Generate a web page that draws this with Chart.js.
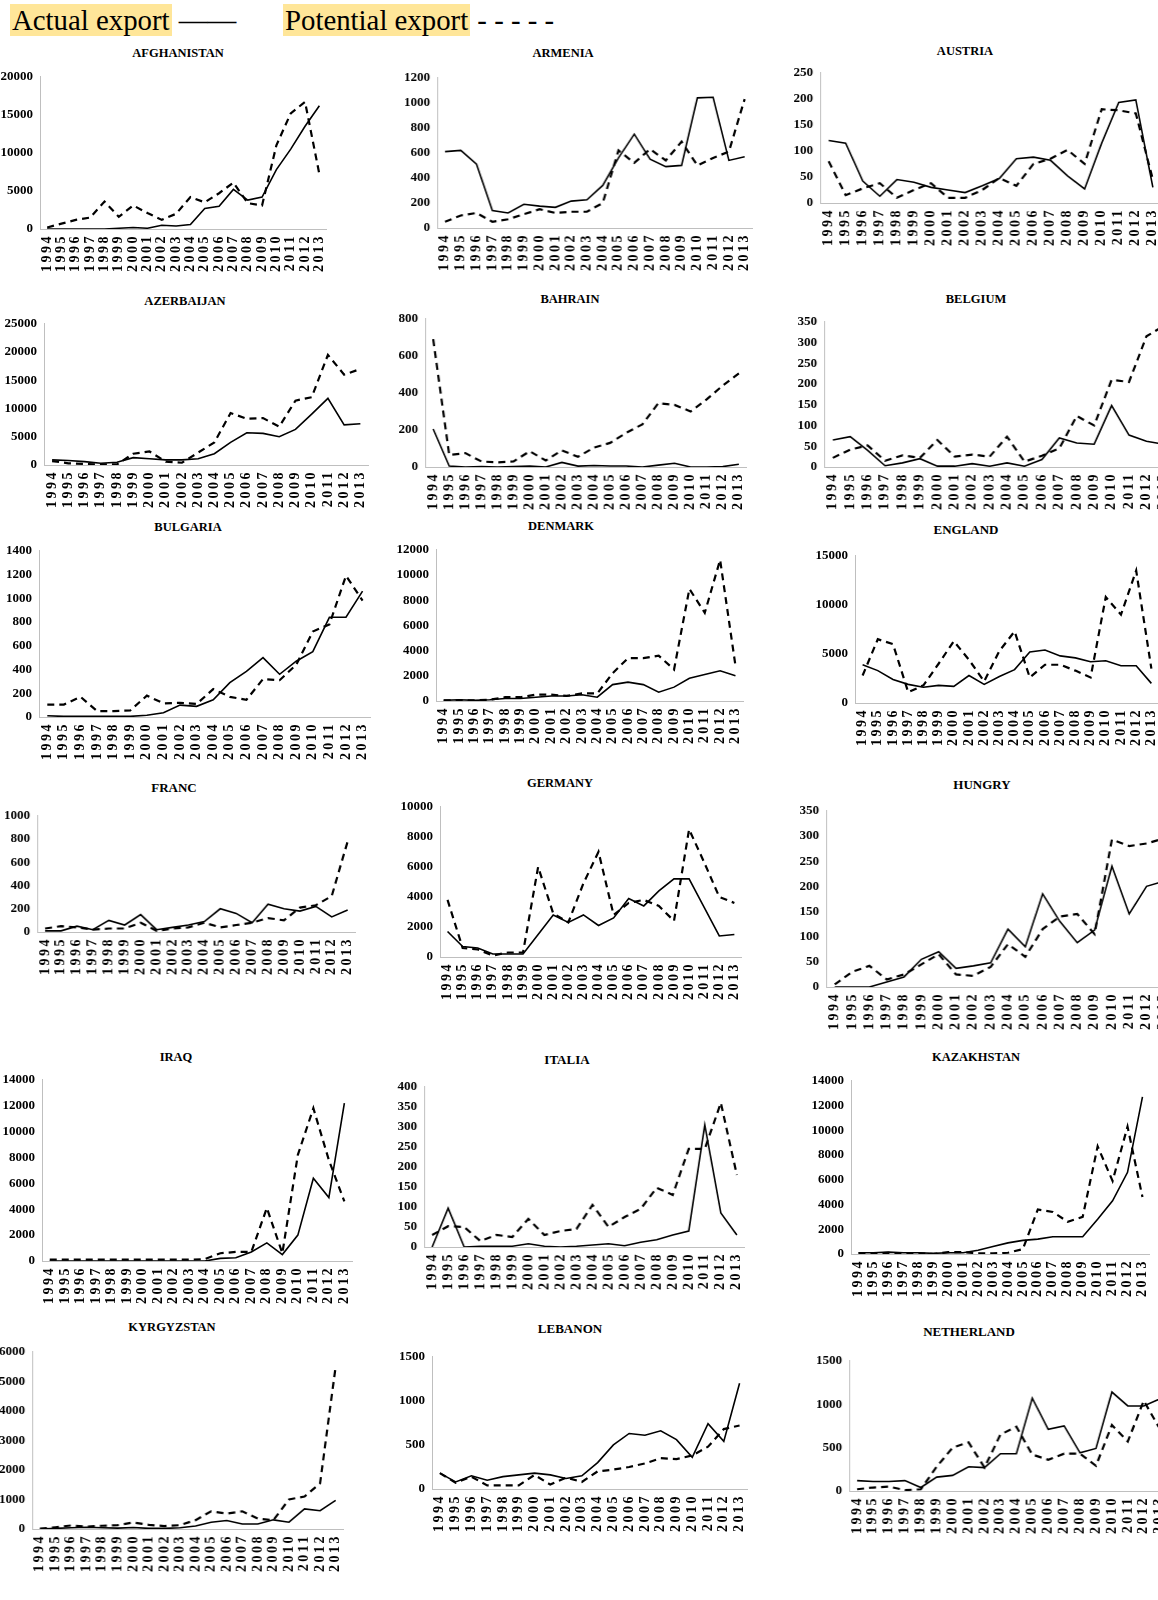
<!DOCTYPE html>
<html>
<head>
<meta charset="utf-8">
<script src="https://cdn.jsdelivr.net/npm/chart.js@4.4.1/dist/chart.umd.min.js"></script>
<style>
  html, body { margin: 0; padding: 0; background: #fff; }
  body { width: 1158px; height: 1600px; position: relative; overflow: hidden; font-family: "Liberation Serif", "Times New Roman", serif; }
  .legend { position: absolute; top: 4px; font-size: 28.8px; line-height: 33px; white-space: nowrap; color: #000; }
  .legend .hl { background: #ffe699; padding: 0 2px; }
  .panel { position: absolute; }
  .ptitle { position: absolute; transform: translate(-50%, -50%); font-weight: bold; white-space: nowrap; color: #000; line-height: 1; }
</style>
</head>
<body>
<div class="legend" style="left:10px"><span class="hl">Actual export</span> ——</div>
<div class="legend" style="left:283px"><span class="hl">Potential export</span> - - - - -</div>

<script>
const years = ["1994", "1995", "1996", "1997", "1998", "1999", "2000", "2001", "2002", "2003",
  "2004", "2005", "2006", "2007", "2008", "2009", "2010", "2011", "2012", "2013"];

const afghanistanActual = [0, 0, 0, 0, 0, 100, 200, 100, 500, 400, 600, 2700, 3000, 5200, 3800, 4200, 7800, 10500, 13500, 16200];
const afghanistanPotential = [200, 700, 1200, 1500, 3600, 1600, 3100, 2100, 1200, 2000, 4200, 3500, 4700, 6100, 3400, 3100, 11000, 15200, 16700, 7200];

const armeniaActual = [610, 620, 510, 140, 120, 190, 175, 165, 215, 225, 340, 560, 750, 550, 490, 500, 1040, 1045, 540, 570];
const armeniaPotential = [50, 100, 120, 50, 70, 110, 150, 120, 130, 130, 200, 620, 520, 630, 540, 690, 500, 560, 610, 1030];

const austriaActual = [120, 115, 42, 13, 45, 40, 30, 25, 20, 33, 47, 85, 88, 82, 52, 27, 115, 193, 198, 30];
const austriaPotential = [80, 15, 28, 38, 10, 25, 38, 10, 10, 25, 48, 33, 75, 85, 102, 75, 180, 178, 172, 45];

const azerbaijanActual = [900, 800, 600, 300, 500, 1300, 1100, 900, 900, 1100, 2000, 4000, 5700, 5600, 5000, 6300, 9000, 11800, 7100, 7300];
const azerbaijanPotential = [700, 300, 200, 100, 100, 2000, 2400, 600, 400, 2200, 4000, 9200, 8200, 8300, 6800, 11400, 12000, 19500, 16000, 17000];

const bahrainActual = [205, 5, 0, 2, 0, 2, 5, 0, 25, 5, 8, 5, 5, 0, 10, 20, 0, 0, 2, 15];
const bahrainPotential = [690, 65, 75, 30, 25, 30, 85, 35, 90, 55, 105, 130, 185, 230, 345, 335, 300, 365, 440, 505];

const belgiumActual = [65, 73, 40, 3, 10, 20, 2, 2, 8, 2, 10, 2, 18, 70, 58, 55, 148, 77, 62, 55];
const belgiumPotential = [22, 42, 52, 15, 28, 22, 65, 25, 30, 25, 73, 13, 27, 45, 123, 100, 210, 205, 315, 340];

const bulgariaActual = [10, 5, 5, 5, 5, 5, 15, 35, 100, 90, 145, 290, 385, 500, 360, 470, 550, 840, 840, 1060];
const bulgariaPotential = [105, 105, 170, 50, 50, 55, 180, 115, 120, 110, 235, 170, 145, 320, 310, 440, 720, 780, 1190, 980];

const denmarkActual = [50, 100, 50, 100, 200, 200, 300, 400, 400, 500, 300, 1300, 1500, 1300, 700, 1100, 1800, 2100, 2400, 2000];
const denmarkPotential = [50, 50, 50, 100, 300, 300, 500, 500, 400, 600, 600, 2200, 3400, 3400, 3600, 2500, 8900, 7000, 11200, 2800];

const englandActual = [3900, 3300, 2400, 1900, 1600, 1800, 1700, 2800, 1900, 2700, 3400, 5200, 5400, 4800, 4600, 4200, 4300, 3800, 3800, 2000];
const englandPotential = [2800, 6500, 6000, 1100, 1800, 4000, 6300, 4400, 2200, 5300, 7300, 2600, 3900, 3900, 3300, 2600, 10800, 9000, 13500, 3500];

const francActual = [10, 10, 50, 20, 100, 60, 150, 20, 40, 60, 90, 200, 160, 80, 240, 200, 180, 220, 130, 190];
const francPotential = [30, 50, 40, 20, 30, 30, 80, 10, 30, 40, 80, 40, 60, 80, 120, 100, 210, 230, 310, 780];

const germanyActual = [1700, 700, 600, 200, 200, 200, 1500, 2800, 2300, 2800, 2100, 2600, 3900, 3400, 4400, 5200, 5200, 3300, 1400, 1500];
const germanyPotential = [3800, 600, 500, 100, 300, 300, 6000, 2900, 2300, 4900, 7000, 2800, 3600, 3800, 3400, 2400, 8500, 6300, 4000, 3600];

const hungryActual = [0, 0, 0, 10, 20, 55, 70, 37, 42, 48, 115, 80, 185, 130, 88, 113, 240, 145, 200, 210];
const hungryPotential = [5, 30, 42, 15, 25, 45, 65, 25, 22, 40, 85, 60, 115, 140, 145, 105, 293, 280, 285, 295];

const iraqActual = [0, 0, 0, 0, 0, 0, 0, 0, 0, 0, 0, 200, 250, 700, 1400, 500, 2000, 6400, 4900, 12200];
const iraqPotential = [100, 100, 100, 100, 100, 100, 100, 100, 100, 100, 150, 600, 700, 700, 4100, 600, 8200, 11800, 7800, 4600];

const italiaActual = [0, 97, 0, 2, 2, 2, 8, 2, 0, 2, 5, 8, 3, 12, 18, 30, 40, 305, 85, 30];
const italiaPotential = [30, 52, 50, 15, 30, 25, 70, 30, 40, 45, 105, 50, 75, 95, 148, 130, 245, 245, 360, 180];

const kazakhstanActual = [100, 100, 150, 100, 100, 50, 100, 100, 300, 600, 900, 1100, 1200, 1400, 1400, 1400, 2800, 4300, 6600, 12700];
const kazakhstanPotential = [50, 50, 100, 0, 50, 0, 150, 150, 50, 50, 100, 400, 3600, 3400, 2600, 3000, 8700, 5900, 10300, 4600];

const kyrgyzstanActual = [0, 20, 40, 60, 40, 30, 50, 20, 20, 40, 100, 230, 290, 170, 170, 310, 230, 680, 620, 970];
const kyrgyzstanPotential = [10, 60, 120, 80, 110, 130, 220, 140, 100, 130, 300, 600, 520, 600, 350, 300, 1000, 1100, 1550, 5500];

const lebanonActual = [180, 80, 150, 100, 140, 160, 180, 160, 120, 150, 300, 500, 630, 610, 660, 560, 360, 740, 540, 1200];
const lebanonPotential = [180, 70, 140, 40, 40, 40, 160, 50, 130, 80, 200, 220, 250, 290, 350, 340, 380, 480, 680, 720];

const netherlandActual = [120, 110, 110, 120, 40, 160, 180, 280, 270, 430, 430, 1070, 710, 750, 440, 490, 1140, 980, 980, 1060];
const netherlandPotential = [20, 40, 50, 10, 20, 280, 500, 560, 270, 650, 740, 420, 360, 430, 430, 290, 760, 570, 1040, 720];

// plot boxes in page pixels: x0 = y axis, x1 = end of x axis, y0 = top tick, y1 = zero line; tx/ty = title centre
const panels = [
  { title: "AFGHANISTAN", actual: afghanistanActual, potential: afghanistanPotential, max: 20000, step: 5000, x0: 40, x1: 327, y0: 77, y1: 229, tx: 178, ty: 53 },
  { title: "ARMENIA", actual: armeniaActual, potential: armeniaPotential, max: 1200, step: 200, x0: 437, x1: 751, y0: 78, y1: 228, tx: 563, ty: 53 },
  { title: "AUSTRIA", actual: austriaActual, potential: austriaPotential, max: 250, step: 50, x0: 820, x1: 1160, y0: 73, y1: 203, tx: 965, ty: 51 },
  { title: "AZERBAIJAN", actual: azerbaijanActual, potential: azerbaijanPotential, max: 25000, step: 5000, x0: 44, x1: 368, y0: 324, y1: 465, tx: 185, ty: 301 },
  { title: "BAHRAIN", actual: bahrainActual, potential: bahrainPotential, max: 800, step: 100, x0: 425, x1: 746, y0: 319, y1: 467, tx: 570, ty: 299 },
  { title: "BELGIUM", actual: belgiumActual, potential: belgiumPotential, max: 350, step: 50, x0: 824, x1: 1172, y0: 322, y1: 467, tx: 976, ty: 299 },
  { title: "BULGARIA", actual: bulgariaActual, potential: bulgariaPotential, max: 1400, step: 200, x0: 39, x1: 371, y0: 551, y1: 717, tx: 188, ty: 527 },
  { title: "DENMARK", actual: denmarkActual, potential: denmarkPotential, max: 12000, step: 2000, x0: 436, x1: 743, y0: 550, y1: 701, tx: 561, ty: 526 },
  { title: "ENGLAND", actual: englandActual, potential: englandPotential, max: 15000, step: 5000, x0: 855, x1: 1159, y0: 556, y1: 703, tx: 966, ty: 529, ts: 13 },
  { title: "FRANC", actual: francActual, potential: francPotential, max: 1000, step: 200, x0: 37, x1: 355, y0: 816, y1: 932, tx: 174, ty: 787, ts: 13 },
  { title: "GERMANY", actual: germanyActual, potential: germanyPotential, max: 10000, step: 2000, x0: 440, x1: 742, y0: 807, y1: 957, tx: 560, ty: 783 },
  { title: "HUNGRY", actual: hungryActual, potential: hungryPotential, max: 350, step: 50, x0: 826, x1: 1172, y0: 811, y1: 987, tx: 982, ty: 784, ts: 13 },
  { title: "IRAQ", actual: iraqActual, potential: iraqPotential, max: 14000, step: 2000, x0: 42, x1: 352, y0: 1080, y1: 1261, tx: 176, ty: 1057 },
  { title: "ITALIA", actual: italiaActual, potential: italiaPotential, max: 400, step: 50, x0: 424, x1: 744, y0: 1087, y1: 1247, tx: 567, ty: 1059, ts: 13 },
  { title: "KAZAKHSTAN", actual: kazakhstanActual, potential: kazakhstanPotential, max: 14000, step: 2000, x0: 851, x1: 1150, y0: 1081, y1: 1254, tx: 976, ty: 1057 },
  { title: "KYRGYZSTAN", actual: kyrgyzstanActual, potential: kyrgyzstanPotential, max: 6000, step: 1000, x0: 32, x1: 342, y0: 1352, y1: 1529, tx: 172, ty: 1327 },
  { title: "LEBANON", actual: lebanonActual, potential: lebanonPotential, max: 1500, step: 500, x0: 432, x1: 748, y0: 1357, y1: 1489, tx: 570, ty: 1328, ts: 13 },
  { title: "NETHERLAND", actual: netherlandActual, potential: netherlandPotential, max: 1500, step: 500, x0: 849, x1: 1167, y0: 1361, y1: 1491, tx: 969, ty: 1331, ts: 13 }
];

const FONT = "'Liberation Serif', 'Times New Roman', serif";
Chart.defaults.font.family = FONT;
Chart.defaults.color = "#000";

// the year labels in the original are stretched, so the digits get a little extra spacing
const YEAR_SPACING = "2.5px";
const yearSpacing = {
  id: "yearSpacing",
  beforeUpdate(chart) { chart.ctx.letterSpacing = YEAR_SPACING; },
  beforeDraw(chart) { chart.ctx.letterSpacing = YEAR_SPACING; }
};

panels.forEach(p => {
  const t = document.createElement("div");
  t.className = "ptitle";
  t.textContent = p.title;
  t.style.left = p.tx + "px";
  t.style.top = p.ty + "px";
  t.style.fontSize = (p.ts || 12.5) + "px";
  document.body.appendChild(t);

  const box = document.createElement("div");
  box.className = "panel";
  box.style.width = (p.x1 - p.x0 + 80) + "px";
  box.style.height = (p.y1 - p.y0 + 70) + "px";
  const cv = document.createElement("canvas");
  box.appendChild(cv);
  document.body.appendChild(box);

  const chart = new Chart(cv, {
    type: "line",
    data: {
      labels: years,
      datasets: [
        { label: "Actual export", data: p.actual, borderColor: "#000", borderWidth: 1.6, pointRadius: 0, tension: 0, fill: false },
        { label: "Potential export", data: p.potential, borderColor: "#000", borderWidth: 2.2, borderDash: [7, 5], pointRadius: 0, tension: 0, fill: false }
      ]
    },
    options: {
      responsive: true,
      maintainAspectRatio: false,
      animation: false,
      layout: { padding: 0 },
      plugins: {
        legend: { display: false },
        tooltip: { enabled: false },
        title: { display: false }
      },
      scales: {
        x: {
          offset: true,
          grid: { display: false, drawTicks: false },
          border: { color: "#bfbfbf" },
          ticks: { color: "#000", font: { family: FONT, size: 14, weight: "bold" }, minRotation: 90, maxRotation: 90, autoSkip: false, padding: 5 }
        },
        y: {
          min: 0,
          max: p.max,
          grid: { display: false, drawTicks: false },
          border: { color: "#bfbfbf" },
          ticks: { stepSize: p.step, color: "#000", font: { family: FONT, size: 13, weight: "bold" }, padding: 7, callback: v => v }
        }
      }
    },
    plugins: [yearSpacing]
  });

  // value labels keep normal spacing
  const ys = chart.scales.y;
  const drawValues = ys.drawLabels;
  ys.drawLabels = function (area) {
    this.ctx.save();
    this.ctx.letterSpacing = "0px";
    drawValues.call(this, area);
    this.ctx.restore();
  };

  // size the box so the plot area matches the reference, then move it into place
  for (let i = 0; i < 2; i++) {
    const a = chart.chartArea;
    box.style.width = (box.clientWidth + (p.x1 - p.x0) - (a.right - a.left)) + "px";
    box.style.height = (box.clientHeight + (p.y1 - p.y0) - (a.bottom - a.top)) + "px";
    chart.resize();
  }
  const b = chart.chartArea;
  box.style.left = (p.x0 - b.left) + "px";
  box.style.top = (p.y0 - b.top) + "px";
});
</script>
</body>
</html>
